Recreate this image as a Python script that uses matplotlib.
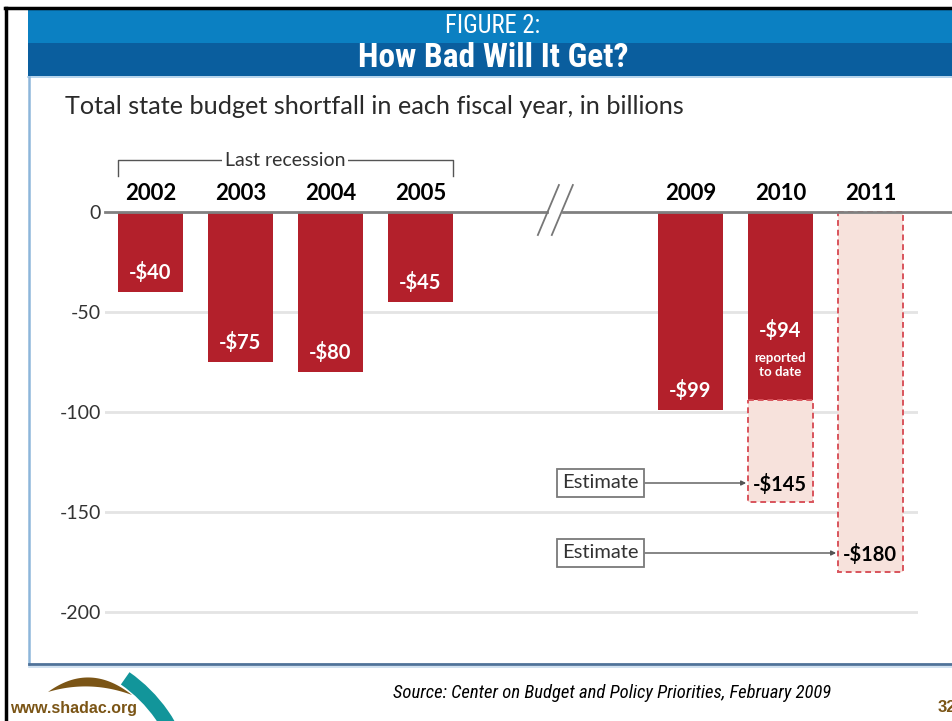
import numpy as np
import matplotlib
matplotlib.use("Agg")
import matplotlib.pyplot as plt
from matplotlib import font_manager
from matplotlib.patches import Rectangle, Wedge, Polygon

# state budget shortfall, billions of dollars
years = ["2002", "2003", "2004", "2005", "2009", "2010", "2011"]
reported = [-40, -75, -80, -45, -99, -94]          # 2002..2010
estimate_years = ["2010", "2011"]
estimate = [-145, -180]
yticks = [0, -50, -100, -150, -200]

RED = "#B3202B"
PINK = "#F7E2DC"
DASH = "#D9545C"
BODY = ["Lato", "DejaVu Sans"]


def pick(names):
    for n in names:
        try:
            font_manager.findfont(font_manager.FontProperties(family=n),
                                  fallback_to_default=False)
            return n
        except ValueError:
            pass
    return None


# condensed face for the banner and source line; plain Arial metrics otherwise
narrow = pick(["Roboto Condensed", "Liberation Sans Narrow",
               "DejaVu Sans Condensed"])
if narrow:
    NARROW = [narrow, "Liberation Sans"]
    fig_size, head_size, src_size = 17.7, 24, 13.4
else:
    NARROW = ["Liberation Sans"]
    fig_size, head_size, src_size = 14, 20, 11.5

# slots on the x axis, with a two-slot gap where the axis is broken
xs = np.arange(len(years)) + (np.arange(len(years)) >= 4) * 2
xpos = dict(zip(years, xs))
bw = 0.72

fig = plt.figure(figsize=(9.52, 7.21), dpi=100)

# page furniture drawn in pixel units
bg = fig.add_axes([0, 0, 1, 1], zorder=0)
bg.set_xlim(0, 952)
bg.set_ylim(721, 0)
bg.axis("off")
bg.add_patch(Rectangle((28, 10), 940, 33, color="#0B80C2", lw=0))
bg.add_patch(Rectangle((28, 43), 940, 33, color="#0A5E9E", lw=0))
bg.plot([28, 952], [76.5, 76.5], color="#A9CDEA", lw=1.2)
bg.plot([29, 29], [77, 664], color="#8DB6DA", lw=1.8)
bg.plot([29, 952], [664, 664], color="#4F7299", lw=2)
bg.plot([29, 952], [666.5, 666.5], color="#C8DCEE", lw=1.2)
bg.plot([5, 952], [8, 8], color="black", lw=2.5)
bg.plot([6, 6], [8, 721], color="black", lw=2.5)

bg.text(493, 26, "FIGURE 2:", color="white", fontsize=fig_size,
        family=NARROW, ha="center", va="center")
bg.text(493, 58, "How Bad Will It Get?", color="white", fontsize=head_size,
        weight="bold", family=NARROW, ha="center", va="center")
bg.text(65, 106, "Total state budget shortfall in each fiscal year, in billions",
        fontsize=18.2, family=BODY, color="#2a2a2a", ha="left", va="center")

# footer: logo, site, source, page number
bg.add_patch(Wedge((40, 800), 156, 305, 345, width=15, color="#12959A", lw=0))
t = np.linspace(0, 1, 40)
sx = 48 + 84 * t
upper = 692 + 3 * t - 64 * t * (1 - t)
lower = 692 + 3 * t - 28 * t * (1 - t)
bg.add_patch(Polygon(np.c_[np.r_[sx, sx[::-1]], np.r_[upper, lower[::-1]]],
                     color="#7B5516", lw=0))
bg.text(10, 709, "www.shadac.org", color="#7B5516", fontsize=11.5,
        weight="bold", family="Liberation Sans", ha="left", va="center")
bg.text(393, 693, "Source: Center on Budget and Policy Priorities, February 2009",
        fontsize=src_size, style="italic", family=NARROW, color="black",
        ha="left", va="center")
bg.text(938, 708, "32", color="#7B5516", fontsize=12, weight="bold",
        family="Liberation Sans", ha="left", va="center")

# chart
ax = fig.add_axes([105 / 952, 59 / 721, 813 / 952, 510 / 721], zorder=1)
ax.patch.set_alpha(0)
ax.set_xlim(-0.506, 8.53)
ax.set_ylim(-225, 30)
for s in ax.spines.values():
    s.set_visible(False)
ax.set_xticks([])
ax.set_yticks(yticks)
ax.set_yticklabels([str(v) for v in yticks], family=BODY, fontsize=14,
                   color="#333333")
ax.tick_params(axis="y", length=0, pad=3)

for v in yticks[1:]:
    ax.axhline(v, color="#E4E4E4", lw=2, zorder=0)

# reported shortfalls
rx = xs[:len(reported)]
ax.bar(rx, reported, width=bw, color=RED, zorder=2)
for x, v in zip(rx, reported):
    if x == xpos["2010"]:
        ax.text(x, -59, f"-${abs(v)}", color="white", weight="bold",
                family=BODY, fontsize=14.5, ha="center", va="center", zorder=5)
        ax.text(x, -76.5, "reported\nto date", color="white", weight="bold",
                family=BODY, fontsize=9.5, ha="center", va="center",
                linespacing=1.25, zorder=5)
    else:
        ax.text(x, v + 9.5, f"-${abs(v)}", color="white", weight="bold",
                family=BODY, fontsize=14.5, ha="center", va="center", zorder=5)

# estimated shortfalls, dashed outline
rep = dict(zip(years, reported))
for yr, v in zip(estimate_years, estimate):
    x = xpos[yr]
    base = rep.get(yr, 0)
    ax.bar(x, v - base, bottom=base, width=bw, color=PINK, edgecolor=DASH,
           lw=1.4, linestyle=(0, (3, 2)), zorder=3)
    ax.text(x, v + 9, f"-${abs(v)}", color="black", weight="bold",
            family=BODY, fontsize=14.5, ha="center", va="center", zorder=5)
    ax.annotate("Estimate", xy=(x - bw / 2 - 0.02, v + 9.5),
                xytext=(5.0, v + 9.5), fontsize=14.5, family=BODY,
                color="#333333", ha="center", va="center", zorder=6,
                bbox=dict(boxstyle="square,pad=0.28", fc="white",
                          ec="#7a7a7a", lw=1.3),
                arrowprops=dict(arrowstyle="-|>", color="#555555", lw=1,
                                mutation_scale=7, relpos=(1, 0.5),
                                shrinkA=0, shrinkB=0))

# zero line with axis break
ax.plot([-0.506, 4.405], [0, 0], color="#808080", lw=2, zorder=4,
        clip_on=False)
ax.plot([4.583, 8.906], [0, 0], color="#808080", lw=2, zorder=4,
        clip_on=False)
for x0 in (4.305, 4.46):
    ax.plot([x0, x0 + 0.234], [-11.5, 13.5], color="#777777", lw=1.3,
            zorder=4)

# year labels and the bracket over the last recession
for yr, x in zip(years, xs):
    ax.text(x, 9.5, yr, ha="center", va="center", weight="bold",
            family=BODY, fontsize=16, color="black", clip_on=False)
ax.plot([-0.36, -0.36, 3.36, 3.36], [18, 26, 26, 18], color="#555555",
        lw=1, clip_on=False)
ax.text(1.494, 26, "Last recession", ha="center", va="center", family=BODY,
        fontsize=14, color="#333333",
        bbox=dict(boxstyle="square,pad=0.12", fc="white", ec="none"))

fig.savefig("out.png", dpi=100)
